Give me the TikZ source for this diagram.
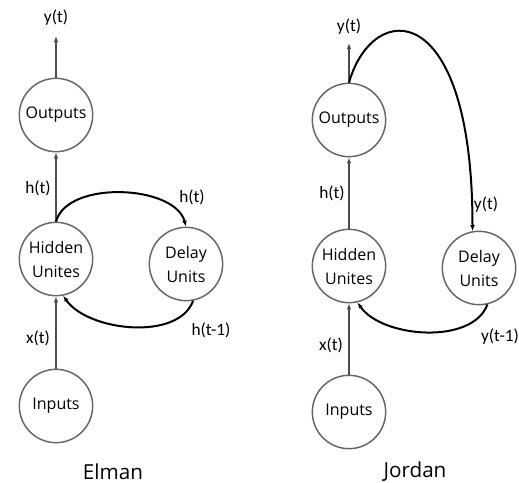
\documentclass[tikz,border=0pt]{standalone}
\usepackage{fontspec}
\usetikzlibrary{arrows.meta}
\setmainfont{Open Sans}
\newfontfamily\labelfont{Carlito}
\begin{document}
\begin{tikzpicture}[x=0.75pt,y=-0.75pt,
  unit/.style={shape=circle, draw=black!60, line width=1.1pt, minimum size=55pt, inner sep=0pt, align=center, font=\fontsize{12}{18}\selectfont},
  sig/.style={font=\labelfont\fontsize{13}{14}\selectfont},
  feed/.style={-{Latex[length=4.5pt,width=3.5pt]}, line width=1.5pt, draw=black},
  fwd/.style={-{Latex[length=4.5pt,width=3.5pt]}, line width=1.2pt, draw=black!70}]
\useasboundingbox (0,0) rectangle (519,483);
% Elman
\node[unit] (outE) at (56,115) {Outputs};
\node[unit] (hidE) at (56,259) {Hidden\\Unites};
\node[unit] (delE) at (186,264) {Delay\\Units};
\node[unit] (inE) at (56,406) {Inputs};
\coordinate (yE) at (56,36);
\node[sig] (lyE) at (56,18) {y(t)};
\node[sig] (lhE) at (38,188) {h(t)};
\node[sig] (lhdE) at (192,197) {h(t)};
\node[sig] (lxE) at (38,338) {x(t)};
\node[sig] (lhpE) at (211,330) {h(t-1)};
\node[font=\fontsize{15.5}{18}\selectfont] (tE) at (113,472) {Elman};
\draw [fwd] (inE) -- (hidE);
\draw [fwd] (hidE) -- (outE);
\draw [fwd] (outE) -- (yE);
\draw [feed] (hidE.north) to[out=75, in=105, looseness=0.85] (delE.north);
\draw [feed] (delE.-79) to[out=-110, in=-55, looseness=0.85] (hidE.-79);
% Jordan
\node[unit] (outJ) at (349,120) {Outputs};
\node[unit] (hidJ) at (349,266) {Hidden\\Unites};
\node[unit] (delJ) at (479,268) {Delay\\Units};
\node[unit] (inJ) at (349,412) {Inputs};
\coordinate (yJ) at (349,43);
\node[sig] (lyJ) at (349,27) {y(t)};
\node[sig] (lhJ) at (332,193) {h(t)};
\node[sig] (lydJ) at (486,205) {y(t)};
\node[sig] (lxJ) at (331,345) {x(t)};
\node[sig] (lypJ) at (500,337) {y(t-1)};
\node[font=\fontsize{15.5}{18}\selectfont] (tJ) at (415,472) {Jordan};
\draw [fwd] (inJ) -- (hidJ);
\draw [fwd] (hidJ) -- (outJ);
\draw [fwd] (outJ) -- (yJ);
\draw [feed] (outJ.north) .. controls +(24,-84) and +(0,-234) .. (delJ.100);
\draw [feed] (delJ.-77) to[out=-110, in=-55, looseness=0.85] (hidJ.-77);
\end{tikzpicture}
\end{document}
